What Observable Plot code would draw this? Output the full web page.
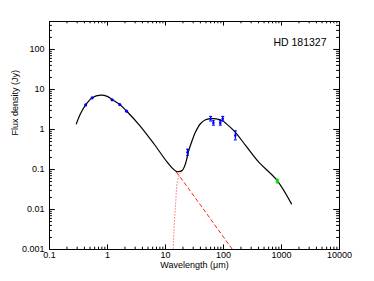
<!DOCTYPE html>
<html>
<head>
<meta charset="utf-8">
<script src="https://cdn.jsdelivr.net/npm/d3@7"></script>
<script src="https://cdn.jsdelivr.net/npm/@observablehq/plot@0.6"></script>
<style>
  html, body { margin: 0; padding: 0; background: #fff; }
  #chart { width: 374px; height: 281px; }
</style>
</head>
<body>
<div id="chart"></div>
<script>
// ---- Data ----
const title = "HD 181327";
const xLabel = "Wavelength (μm)";
const yLabel = "Flux density (Jy)";

// Total model (black line)
const modelWave = [0.29, 0.342, 0.42, 0.545, 0.76, 0.99, 1.2, 1.63, 2.13, 3.6, 6.3, 10.7, 13, 15.5, 17, 19.4, 22.1, 25.2, 28.8, 32.9, 40, 49, 60, 75, 95, 108, 155, 240, 406, 843, 1486];
const modelFlux = [1.38, 2.47, 4.1, 6.2, 7.2, 6.7, 5.6, 4.2, 2.9, 1.25, 0.44, 0.152, 0.11, 0.089, 0.088, 0.094, 0.139, 0.30, 0.53, 0.86, 1.39, 1.75, 1.86, 1.85, 1.68, 1.45, 0.9, 0.40, 0.152, 0.053, 0.0138];

// Stellar photosphere (red dashed)
const photWave = [15.5, 20, 30, 50, 80, 145];
const photFlux = [0.085, 0.052, 0.023, 0.0083, 0.0032, 0.00097];

// Dust component (red dotted)
const dustWave = [13.5, 14, 15, 16, 17.5, 20, 22, 25, 29];
const dustFlux = [0.0009, 0.003, 0.015, 0.05, 0.075, 0.1, 0.135, 0.29, 0.52];

// Optical / near-IR photometry (blue, no visible error bars)
const optWave = [0.42, 0.545, 1.2, 1.63, 2.13];
const optFlux = [4.1, 6.2, 5.5, 4.2, 2.87];

// Infrared photometry (blue, with error bars)
const irWave = [24, 60, 67, 88, 97, 160];
const irFlux = [0.27, 1.86, 1.45, 1.45, 1.86, 0.71];
const irLo   = [0.227, 1.63, 1.28, 1.28, 1.63, 0.55];
const irHi   = [0.32, 2.12, 1.65, 1.65, 2.12, 0.92];

// Submm photometry (green)
const smmWave = [850];
const smmFlux = [0.051];
const smmLo   = [0.046];
const smmHi   = [0.057];

// Axis ticks
const xTicks = [0.1, 1, 10, 100, 1000, 10000];
const xTickLabels = ["0.1", "1", "10", "100", "1000", "10000"];
const yTicks = [0.001, 0.01, 0.1, 1, 10, 100];
const yTickLabels = ["0.001", "0.01", "0.1", "1", "10", "100"];
const xDomain = [0.1, 10000];
const yDomain = [0.001, 500];

// ---- Build tables ----
const zip = (xs, ys) => xs.map((x, i) => ({x, y: ys[i]}));
const model = zip(modelWave, modelFlux);
const phot = zip(photWave, photFlux);
const dust = zip(dustWave, dustFlux);
const opt = zip(optWave, optFlux);
const ir = irWave.map((x, i) => ({x, y: irFlux[i], lo: irLo[i], hi: irHi[i]}));
const smm = smmWave.map((x, i) => ({x, y: smmFlux[i], lo: smmLo[i], hi: smmHi[i]}));

const minorOf = (lo, hi) => {
  const out = [];
  for (let d = lo; d < hi; d *= 10) for (let k = 2; k <= 9; k++) if (d * k < hi) out.push(d * k);
  return out;
};
const xMinor = minorOf(0.1, 10000);
const yMinor = minorOf(0.001, 500);
const yMajorIn = yTicks.filter(v => v <= 500);

const W = 374, H = 281;
const mL = 49, mR = 35, mT = 21, mB = 32;
const pW = W - mL - mR, pH = H - mT - mB;
const xMaj = 4.6, xMin = 2.3, yMaj = 5.8, yMin = 2.9;

const hbar = {draw(ctx, size) { const w = Math.sqrt(size) / 2; ctx.moveTo(-w, 0); ctx.lineTo(w, 0); }};
const font = "Liberation Sans, Arial, Helvetica, sans-serif";

const chart = Plot.plot({
  width: W, height: H,
  marginLeft: mL, marginRight: mR, marginTop: mT, marginBottom: mB,
  style: {fontFamily: font, background: "white", color: "black"},
  x: {type: "log", domain: xDomain, axis: null},
  y: {type: "log", domain: yDomain, axis: null},
  marks: [
    // tick marks (inward, all four sides)
    Plot.ruleX(xTicks, {x: d => d, insetTop: pH - xMaj, stroke: "black"}),
    Plot.ruleX(xTicks, {x: d => d, insetBottom: pH - xMaj, stroke: "black"}),
    Plot.ruleX(xMinor, {x: d => d, insetTop: pH - xMin, stroke: "black"}),
    Plot.ruleX(xMinor, {x: d => d, insetBottom: pH - xMin, stroke: "black"}),
    Plot.ruleY(yMajorIn, {y: d => d, insetRight: pW - yMaj, stroke: "black"}),
    Plot.ruleY(yMajorIn, {y: d => d, insetLeft: pW - yMaj, stroke: "black"}),
    Plot.ruleY(yMinor, {y: d => d, insetRight: pW - yMin, stroke: "black"}),
    Plot.ruleY(yMinor, {y: d => d, insetLeft: pW - yMin, stroke: "black"}),
    // tick labels
    Plot.text(xTicks, {x: d => d, text: (d, i) => xTickLabels[i], frameAnchor: "bottom", dy: 8, fontSize: 9}),
    Plot.text(yTicks, {y: d => d, text: (d, i) => yTickLabels[i], frameAnchor: "left", textAnchor: "end", dx: -5, fontSize: 9}),
    // axis titles
    Plot.text([xLabel], {frameAnchor: "bottom", dy: 18, fontSize: 9}),
    Plot.text([yLabel], {frameAnchor: "left", rotate: -90, dx: -34, fontSize: 9}),
    Plot.text([title], {frameAnchor: "top-right", textAnchor: "end", dx: -13, dy: 17, fontSize: 10.5}),
    // model components
    Plot.line(dust, {x: "x", y: "y", stroke: "#ff8080", strokeWidth: 1, strokeDasharray: "1,2", curve: "catmull-rom", clip: true}),
    Plot.line(phot, {x: "x", y: "y", stroke: "#ff2020", strokeWidth: 1, strokeDasharray: "3.5,3", clip: true}),
    Plot.line(model, {x: "x", y: "y", stroke: "black", strokeWidth: 1.2, curve: "catmull-rom", clip: true}),
    // photometry
    Plot.dot(opt, {x: "x", y: "y", r: 1.6, fill: "#0000ff", stroke: "none"}),
    Plot.ruleX(ir, {x: "x", y1: "lo", y2: "hi", stroke: "#0000ff", strokeWidth: 1.2}),
    Plot.dot(ir, {x: "x", y: "lo", symbol: hbar, r: 1.7, stroke: "#0000ff", strokeWidth: 1.1}),
    Plot.dot(ir, {x: "x", y: "hi", symbol: hbar, r: 1.7, stroke: "#0000ff", strokeWidth: 1.1}),
    Plot.dot(ir, {x: "x", y: "y", r: 1.3, fill: "#0000ff", stroke: "none"}),
    Plot.ruleX(smm, {x: "x", y1: "lo", y2: "hi", stroke: "#00e000", strokeWidth: 1.5}),
    Plot.dot(smm, {x: "x", y: "lo", symbol: hbar, r: 1.7, stroke: "#00e000", strokeWidth: 1.1}),
    Plot.dot(smm, {x: "x", y: "hi", symbol: hbar, r: 1.7, stroke: "#00e000", strokeWidth: 1.1}),
    Plot.dot(smm, {x: "x", y: "y", r: 1.6, fill: "#00e000", stroke: "none"}),
    Plot.frame({stroke: "black", strokeWidth: 1})
  ]
});
document.getElementById("chart").appendChild(chart);
</script>
</body>
</html>
